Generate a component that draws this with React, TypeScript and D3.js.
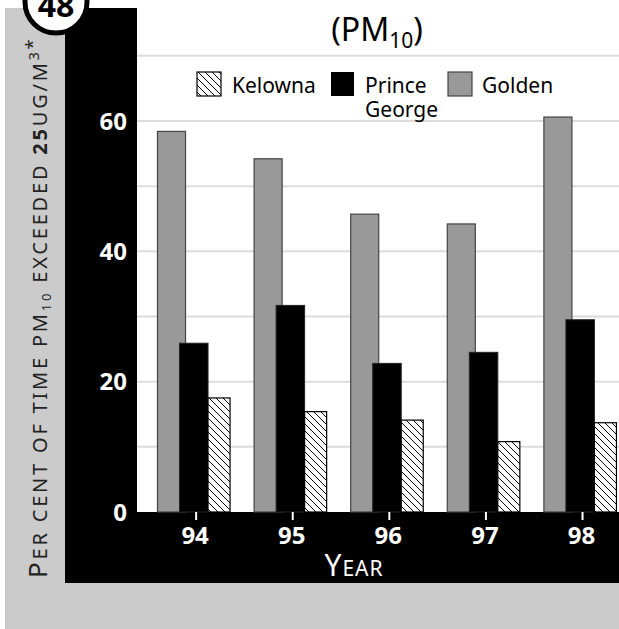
import React from "react";
import * as d3 from "d3";

const years = ["94", "95", "96", "97", "98"];
const kelowna = [17.5, 15.4, 14.1, 10.8, 13.7];
const princeGeorge = [25.9, 31.7, 22.8, 24.5, 29.5];
const golden = [58.4, 54.2, 45.7, 44.2, 60.6];
const yTickValues = [0, 20, 40, 60];
const gridValues = [10, 20, 30, 40, 50, 60, 70];
const legendLabels = ["Kelowna", "Prince", "George", "Golden"];

const FONT = "'Noto Sans', 'DejaVu Sans', sans-serif";

export default function App() {
  const W = 619;
  const H = 629;
  const plotLeft = 137;
  const baseY = 512;

  const y = d3.scaleLinear().domain([0, 70]).range([baseY, 55.8]);
  const x = d3.scaleBand<string>().domain(years).range([157.5, 157.5 + 5 * 96.6]).padding(0);
  const bw = x.bandwidth();

  const goldenX = (yr: string) => (x(yr) as number);
  const pgX = (yr: string) => (x(yr) as number) + bw * 0.228;
  const kelX = (yr: string) => (x(yr) as number) + bw * 0.523;
  const tickX = (yr: string) => (x(yr) as number) + bw * 0.4;

  return (
    <svg width={W} height={H} style={{ position: "absolute", left: 0, top: 0 }} fontFamily={FONT}>
      <defs>
        <pattern id="hatch" patternUnits="userSpaceOnUse" width="7" height="7">
          <rect width="7" height="7" fill="#fff" />
          <path d="M0,0 L7,7 M-2,5 L2,9 M5,-2 L9,2" stroke="#000" strokeWidth="1" />
        </pattern>
      </defs>
      <rect x={0} y={0} width={W} height={H} fill="#fff" />
      {/* gray backdrop */}
      <rect x={5} y={8} width={W - 5} height={H - 8} fill="#cbcbcb" />
      {/* black L-shaped frame */}
      <rect x={65} y={8} width={W - 65} height={583 - 8} fill="#000" />
      {/* white plot area */}
      <rect x={plotLeft} y={0} width={W - plotLeft} height={baseY} fill="#fff" />

      {/* gridlines */}
      {gridValues.map((v) => (
        <line key={v} x1={plotLeft} x2={W} y1={y(v)} y2={y(v)} stroke="#dcdcdc" strokeWidth={2} />
      ))}

      {/* bars */}
      {years.map((yr, i) => (
        <g key={yr}>
          <rect x={goldenX(yr)} y={y(golden[i])} width={bw * 0.29} height={baseY - y(golden[i])}
            fill="#999" stroke="#444" strokeWidth={1.2} />
          <rect x={pgX(yr)} y={y(princeGeorge[i])} width={bw * 0.295} height={baseY - y(princeGeorge[i])}
            fill="#000" stroke="#222" strokeWidth={1} />
          <rect x={kelX(yr)} y={y(kelowna[i])} width={bw * 0.228} height={baseY - y(kelowna[i])}
            fill="url(#hatch)" stroke="#000" strokeWidth={1.2} />
        </g>
      ))}

      {/* y tick labels */}
      {yTickValues.map((v) => (
        <text key={v} x={127} y={y(v)} dy="0.36em" textAnchor="end" fill="#fff" fontSize={24} fontWeight="bold">
          {v}
        </text>
      ))}

      {/* x ticks */}
      {years.map((yr) => (
        <g key={yr}>
          <line x1={tickX(yr)} x2={tickX(yr)} y1={baseY} y2={520} stroke="#fff" strokeWidth={2} />
          <text x={tickX(yr) - 1} y={544} textAnchor="middle" fill="#fff" fontSize={24} fontWeight="bold">
            {yr}
          </text>
        </g>
      ))}

      {/* x axis title */}
      <text x={354} y={576} textAnchor="middle" fill="#fff" letterSpacing={1}>
        <tspan fontSize={30}>Y</tspan>
        <tspan fontSize={21}>EAR</tspan>
      </text>

      {/* y axis title */}
      <text transform="translate(47,578) rotate(-90)" fill="#222" fontSize={20} letterSpacing={2.8}>
        <tspan fontSize={26}>P</tspan>
        <tspan>ER CENT OF TIME PM</tspan>
        <tspan fontSize={13} dy={4}>10</tspan>
        <tspan dy={-4}> EXCEEDED </tspan>
        <tspan fontWeight="bold">25</tspan>
        <tspan>UG/M</tspan>
        <tspan fontSize={14} dy={-8}>3</tspan>
        <tspan fontSize={18}>*</tspan>
      </text>

      {/* title */}
      <text x={377} y={41} textAnchor="middle" fill="#000" fontSize={32}>
        <tspan>(PM</tspan>
        <tspan fontSize={21} dy={7}>10</tspan>
        <tspan dy={-7}>)</tspan>
      </text>

      {/* legend */}
      <rect x={197} y={72} width={24} height={24} fill="url(#hatch)" stroke="#000" strokeWidth={1.2} />
      <text x={232} y={93} fontSize={21} fill="#000">{legendLabels[0]}</text>
      <rect x={331} y={72} width={23} height={24} fill="#000" />
      <text x={365} y={93} fontSize={21} fill="#000">{legendLabels[1]}</text>
      <text x={365} y={117} fontSize={21} fill="#000">{legendLabels[2]}</text>
      <rect x={448} y={72} width={24} height={24} fill="#999" stroke="#444" strokeWidth={1.2} />
      <text x={482} y={93} fontSize={21} fill="#000">{legendLabels[3]}</text>

      {/* badge */}
      <circle cx={56} cy={2} r={31} fill="#fff" stroke="#000" strokeWidth={5} />
      <text x={56} y={17} textAnchor="middle" fontSize={32} fontWeight="bold" fill="#000">48</text>
    </svg>
  );
}
